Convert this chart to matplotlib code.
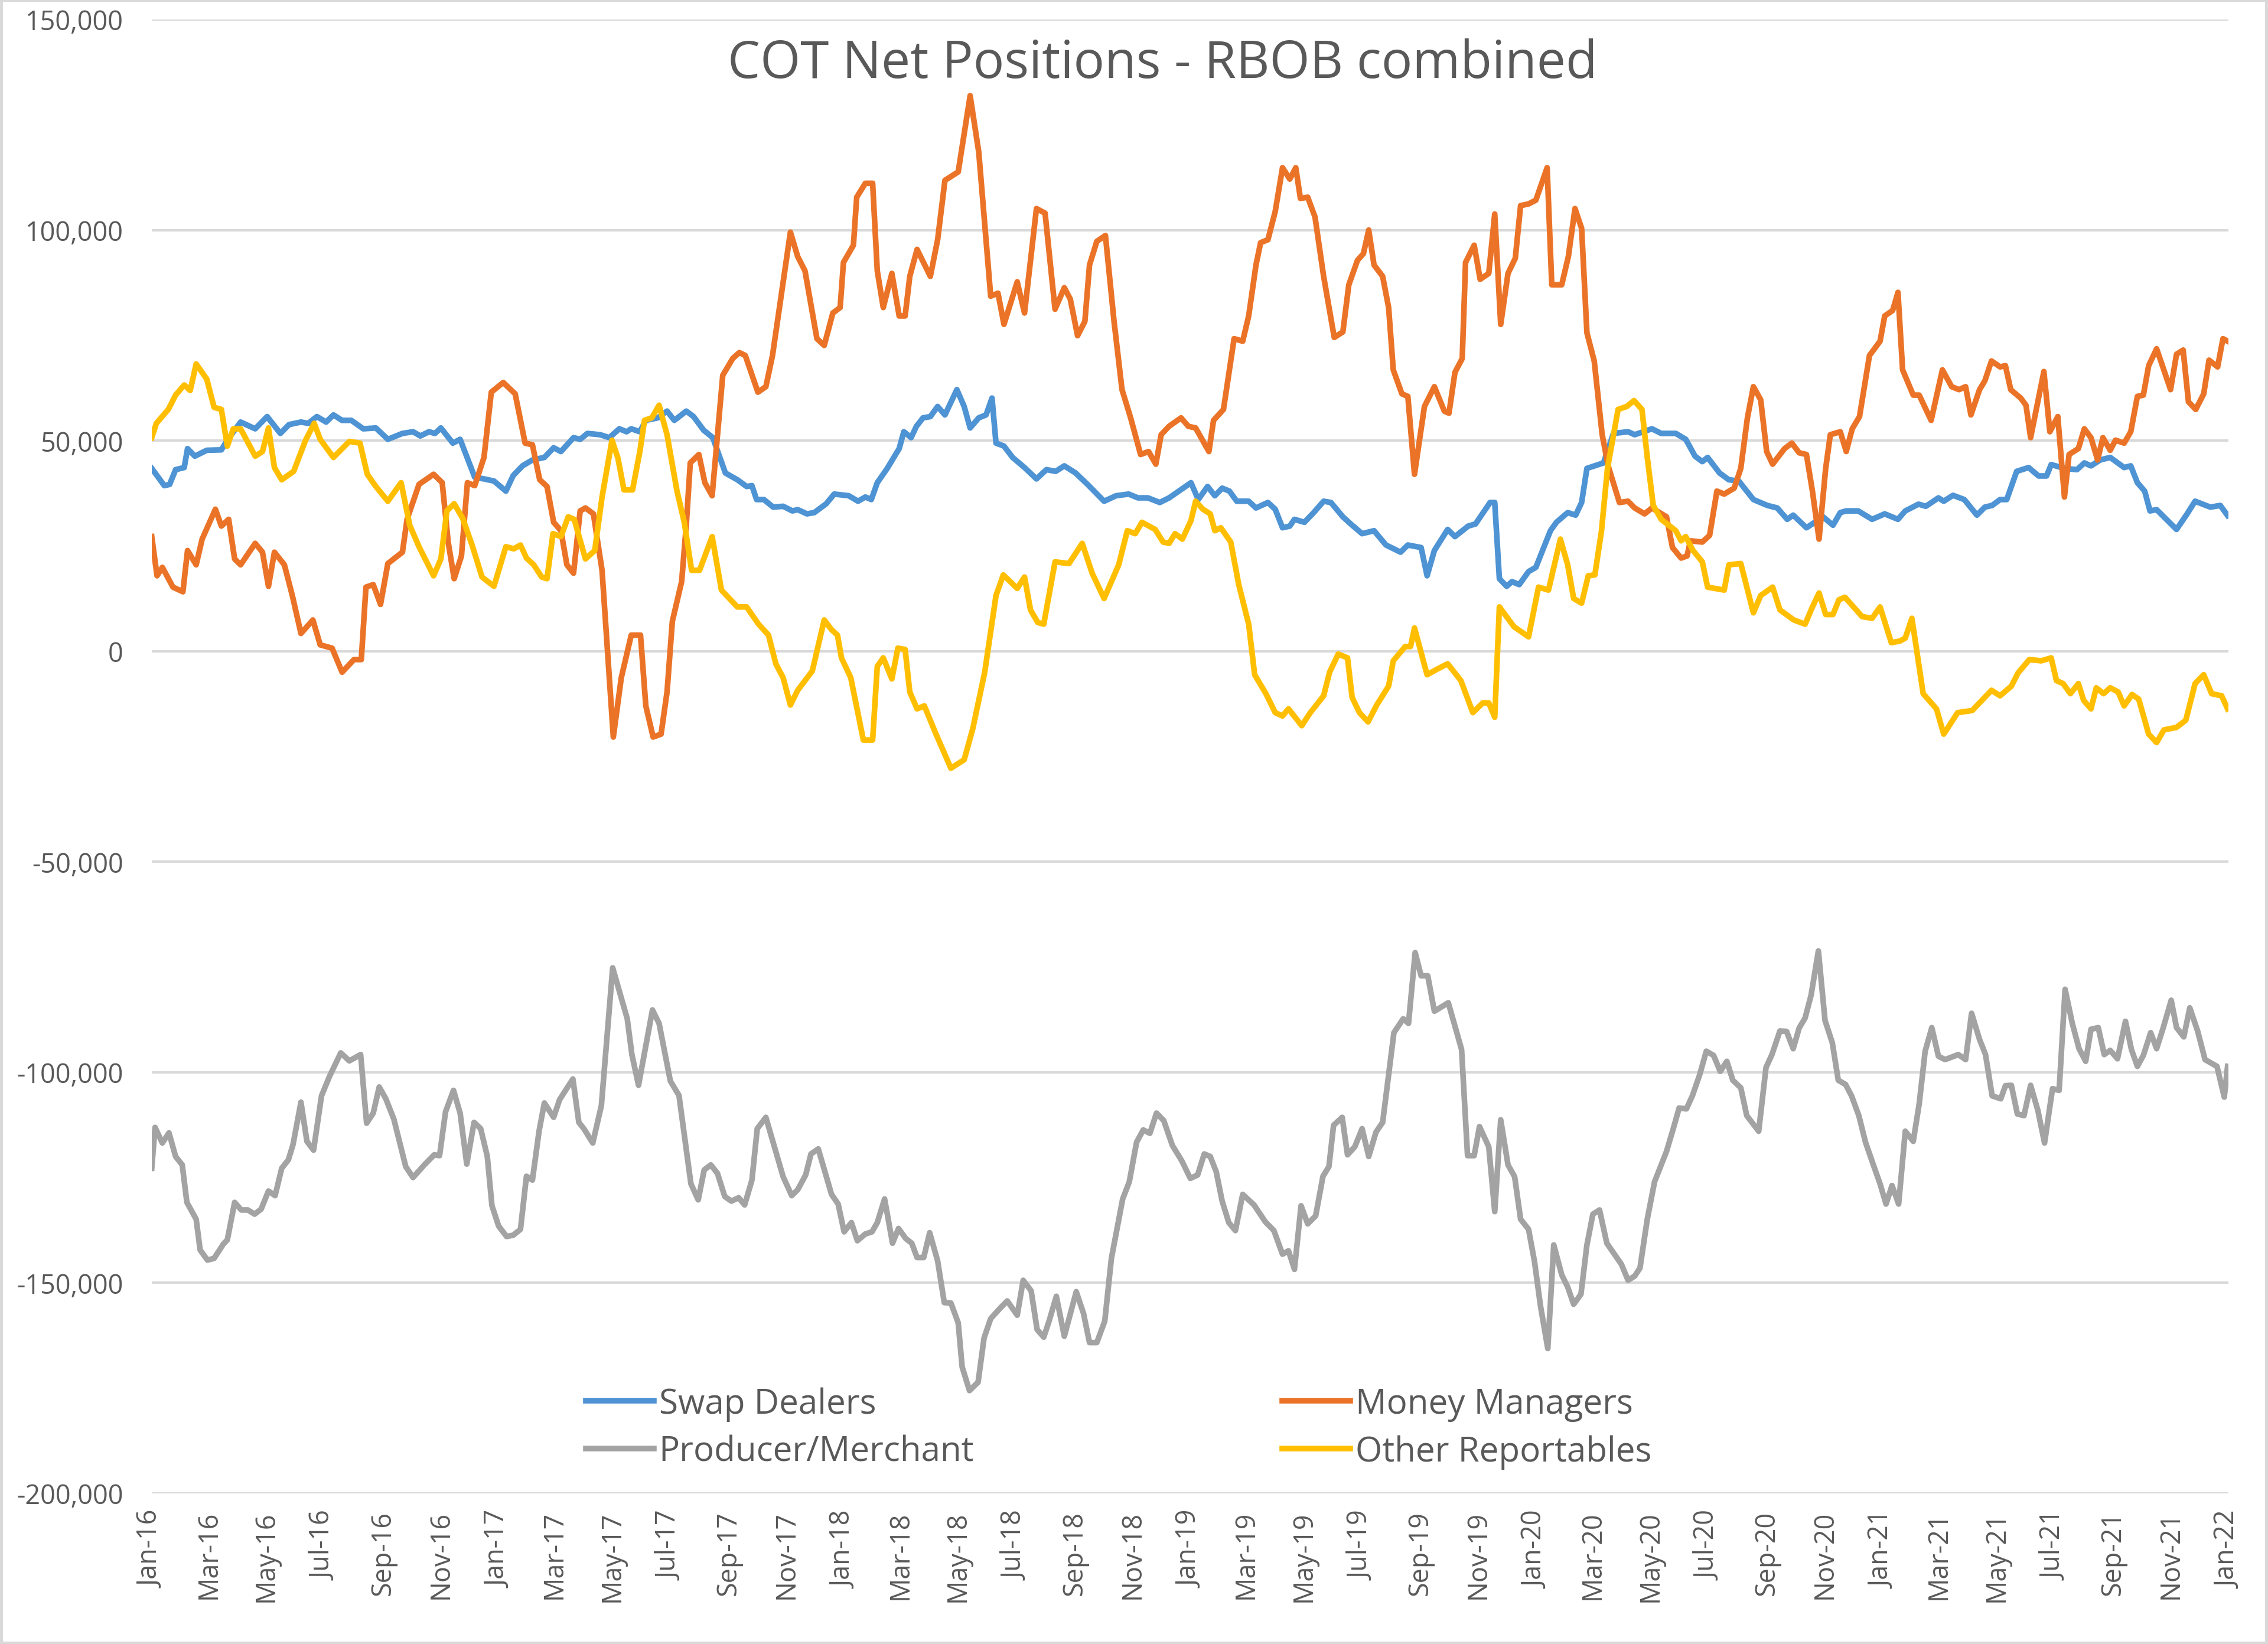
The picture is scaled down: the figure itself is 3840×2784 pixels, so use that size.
import matplotlib
matplotlib.use("Agg")
import matplotlib.pyplot as plt
import matplotlib.patches as patches
import numpy as np
import pandas as pd

# weekly COT net positions as (weeks since 5 Jan 2016, thousands of contracts)
swap_pts = [
    (0, 43.4), (1.9, 39.3), (2.7, 39.6), (3.6, 43.1), (4.9, 43.6), (5.4, 48.1), (6.5, 46.3), (8.3, 47.7),
    (10.5, 47.8), (11.4, 50.1), (13.4, 54.4), (15.6, 52.8), (17.4, 55.7), (19.4, 51.7), (20.7, 53.8),
    (22.5, 54.4), (23.6, 54.1), (24.9, 55.7), (26.3, 54.4), (27.4, 56.1), (28.7, 54.8), (30.1, 54.8),
    (31.9, 52.8), (33.8, 53.0), (35.6, 50.3), (37.8, 51.7), (39.4, 52.1), (40.5, 51.1), (41.8, 52.1),
    (42.7, 51.7), (43.6, 53.0), (45.4, 49.4), (46.5, 50.3), (48.7, 41.3), (50.1, 40.9), (51.6, 40.4),
    (53.4, 38.0), (54.5, 41.7), (55.9, 44.0), (57.4, 45.4), (59.2, 46.0), (60.6, 48.3), (61.7, 47.4),
    (63.6, 50.7), (64.6, 50.3), (65.7, 51.7), (67.6, 51.4), (69.0, 50.7), (70.5, 52.8), (71.6, 52.1),
    (72.3, 52.8), (73.6, 52.1), (74.5, 54.8), (76.3, 55.4), (77.7, 57.0), (78.8, 54.8), (80.6, 57.0),
    (81.7, 55.7), (83.2, 52.5), (84.6, 50.7), (86.5, 42.3), (88.3, 40.7), (89.7, 39.1), (90.5, 39.3),
    (91.2, 36.0), (92.3, 36.0), (93.7, 34.2), (95.2, 34.4), (96.6, 33.3), (97.4, 33.6), (98.8, 32.6),
    (99.9, 32.9), (101.7, 35.0), (102.9, 37.3), (105.1, 36.9), (106.5, 35.6), (107.6, 36.6), (108.5, 36.0),
    (109.4, 40.0), (110.9, 43.4), (112.7, 48.1), (113.4, 52.1), (114.5, 50.7), (115.3, 53.4), (116.3, 55.4),
    (117.4, 55.7), (118.5, 58.1), (119.6, 56.1), (121.4, 62.1), (122.5, 58.1), (123.4, 53.0), (124.7, 55.4),
    (125.8, 56.1), (126.7, 60.1), (127.3, 49.4), (128.5, 48.7), (129.8, 46.0), (131.6, 43.6), (133.4, 40.9),
    (134.9, 43.1), (136.3, 42.7), (137.6, 44.0), (139.3, 42.3), (141.1, 39.6), (143.6, 35.6), (145.4, 36.9),
    (147.3, 37.3), (148.7, 36.4), (150.2, 36.4), (152.0, 35.3), (153.4, 36.4), (156.7, 40.0), (157.8, 36.0),
    (159.2, 39.1), (160.3, 36.9), (161.4, 38.7), (162.5, 38.0), (163.6, 35.6), (165.4, 35.6), (166.5, 34.0),
    (168.3, 35.3), (169.4, 33.7), (170.5, 29.3), (171.6, 29.7), (172.3, 31.3), (173.8, 30.6), (175.2, 32.9),
    (176.7, 35.6), (177.8, 35.3), (179.6, 31.9), (181.0, 29.9), (182.5, 27.9), (184.3, 28.6), (186.1, 25.2),
    (188.3, 23.5), (189.4, 25.2), (191.4, 24.6), (192.3, 17.9), (193.4, 23.9), (195.4, 28.9), (196.5, 27.2),
    (198.5, 29.7), (199.6, 30.2), (201.8, 35.3), (202.5, 35.3), (203.2, 17.2), (204.3, 15.4), (205.1, 16.5),
    (206.2, 15.8), (207.6, 18.9), (208.7, 19.9), (210.9, 28.6), (211.8, 30.6), (213.5, 32.9), (214.7, 32.3),
    (215.6, 35.3), (216.4, 43.4), (218.9, 44.7), (220.4, 51.7), (222.6, 52.1), (223.6, 51.4), (226.2, 52.8),
    (227.6, 51.7), (229.8, 51.7), (231.3, 50.3), (232.7, 46.3), (233.8, 45.0), (234.6, 46.0), (236.4, 42.3),
    (237.8, 40.7), (239.3, 40.4), (241.5, 36.0), (243.6, 34.6), (245.1, 34.0), (246.6, 31.3), (247.5, 32.3),
    (249.5, 29.3), (252.0, 31.9), (253.5, 29.9), (254.6, 32.9), (255.5, 33.3), (257.3, 33.3), (259.4, 31.3),
    (261.3, 32.6), (263.3, 31.3), (264.4, 33.3), (266.4, 34.9), (267.5, 34.4), (269.4, 36.4), (270.2, 35.6),
    (271.6, 37.0), (273.3, 36.0), (275.2, 32.3), (276.4, 34.2), (277.5, 34.6), (278.7, 36.0), (279.7, 36.0),
    (281.2, 42.7), (283.0, 43.6), (284.5, 41.6), (285.7, 41.6), (286.4, 44.3), (288.4, 43.4), (290.3, 43.1),
    (291.4, 44.7), (292.4, 44.0), (293.8, 45.4), (295.3, 46.0), (297.4, 43.6), (298.4, 44.0), (299.4, 40.0),
    (300.5, 38.0), (301.3, 33.3), (302.3, 33.6), (305.3, 28.9), (306.9, 32.6), (308.1, 35.6), (310.4, 34.2),
    (311.9, 34.6), (313.0, 32.2),
]

money_pts = [
    (0, 27.2), (0.8, 17.9), (1.6, 19.9), (3.2, 15.2), (4.7, 14.1), (5.4, 23.9), (6.7, 20.5), (7.6, 26.6),
    (9.6, 33.7), (10.5, 29.7), (11.6, 31.3), (12.5, 21.9), (13.4, 20.5), (15.6, 25.6), (16.7, 23.5),
    (17.6, 15.4), (18.5, 23.5), (20.0, 20.5), (21.2, 13.2), (22.5, 4.2), (24.3, 7.4), (25.4, 1.5),
    (27.2, 0.7), (28.7, -5.0), (30.5, -2.0), (31.6, -2.0), (32.3, 15.2), (33.4, 15.8), (34.5, 11.1),
    (35.6, 20.8), (37.8, 23.5), (38.5, 31.3), (40.3, 39.6), (42.5, 42.0), (43.8, 40.0), (44.7, 25.9),
    (45.6, 17.2), (46.7, 22.6), (47.6, 40.0), (48.7, 39.3), (50.1, 46.0), (51.2, 61.5), (53.0, 63.8),
    (54.8, 61.1), (56.3, 49.4), (57.4, 49.0), (58.5, 40.7), (59.6, 39.1), (60.6, 30.6), (61.7, 28.6),
    (62.6, 20.5), (63.6, 18.5), (64.6, 33.3), (65.4, 34.0), (66.6, 32.6), (67.9, 19.2), (69.6, -20.4),
    (70.8, -6.3), (72.3, 3.8), (73.7, 3.8), (74.5, -13.0), (75.6, -20.4), (76.8, -19.7), (77.7, -9.7),
    (78.5, 7.1), (79.9, 16.5), (80.6, 29.9), (81.2, 44.7), (82.5, 46.7), (83.4, 40.0), (84.5, 36.9),
    (86.1, 65.5), (87.6, 69.5), (88.6, 70.9), (89.5, 70.2), (91.4, 61.5), (92.6, 62.8), (93.6, 70.2),
    (96.3, 99.5), (97.4, 93.7), (98.5, 90.3), (100.3, 74.2), (101.4, 72.6), (102.7, 80.3), (103.8, 81.6),
    (104.3, 92.3), (105.8, 96.4), (106.3, 107.8), (107.6, 111.1), (108.7, 111.1), (109.4, 90.3),
    (110.3, 81.6), (111.6, 89.7), (112.7, 79.6), (113.6, 79.6), (114.3, 89.0), (115.4, 95.4), (117.4, 89.0),
    (118.5, 97.7), (119.6, 111.8), (121.6, 113.8), (123.4, 131.9), (124.7, 118.5), (126.5, 84.3),
    (127.6, 85.0), (128.5, 77.6), (130.5, 87.7), (131.6, 80.3), (133.4, 105.1), (134.7, 104.0),
    (136.2, 81.2), (137.6, 86.3), (138.5, 83.6), (139.6, 74.9), (140.7, 78.3), (141.4, 91.7), (142.5, 97.3),
    (143.8, 98.7), (145.1, 78.3), (146.3, 62.1), (147.6, 55.4), (149.1, 46.7), (150.3, 47.4), (151.4, 44.4),
    (152.2, 51.4), (153.4, 53.4), (155.2, 55.4), (156.3, 53.4), (157.4, 53.0), (159.4, 47.4), (160.1, 54.8),
    (161.6, 57.4), (163.2, 74.2), (164.5, 73.6), (165.4, 79.6), (166.5, 91.7), (167.2, 97.0), (168.3, 97.7),
    (169.4, 104.4), (170.5, 114.8), (171.6, 112.1), (172.5, 114.8), (173.2, 107.5), (174.3, 107.8),
    (175.4, 103.1), (176.7, 89.0), (178.3, 74.5), (179.6, 75.8), (180.5, 87.0), (181.8, 92.8), (182.7, 94.4),
    (183.5, 100.0), (184.3, 91.7), (185.6, 89.0), (186.5, 81.6), (187.2, 66.8), (188.5, 61.1), (189.4, 60.5),
    (190.4, 42.0), (191.9, 58.1), (193.4, 62.8), (194.9, 57.0), (195.6, 56.5), (196.5, 66.2), (197.6, 69.5),
    (198.1, 92.3), (199.4, 96.4), (200.3, 88.3), (201.6, 89.7), (202.5, 103.8), (203.4, 77.6), (204.5, 89.7),
    (205.6, 93.3), (206.4, 105.8), (207.6, 106.2), (208.7, 107.1), (210.4, 114.8), (211.1, 87.0),
    (212.6, 87.0), (213.6, 93.7), (214.6, 105.1), (215.6, 100.4), (216.4, 75.6), (217.5, 68.9), (218.7, 51.4),
    (219.6, 44.0), (221.3, 35.3), (222.6, 35.6), (223.6, 34.0), (225.1, 32.6), (226.2, 34.0), (228.4, 31.9),
    (229.3, 24.6), (230.6, 22.1), (231.5, 22.6), (232.0, 26.2), (233.8, 25.9), (234.9, 27.5), (236.0, 38.0),
    (237.1, 37.3), (238.6, 38.7), (239.6, 43.4), (240.6, 55.4), (241.5, 62.8), (242.6, 59.7), (243.5, 47.4),
    (244.4, 44.4), (246.2, 48.1), (247.3, 49.4), (248.4, 47.1), (249.5, 46.7), (250.4, 38.0), (251.4, 26.6),
    (252.4, 43.4), (253.1, 51.4), (254.6, 52.1), (255.5, 47.4), (256.4, 52.8), (257.5, 55.7), (259.0, 70.2),
    (260.6, 73.6), (261.3, 79.6), (262.5, 80.9), (263.3, 85.2), (264.0, 66.8), (265.6, 60.8), (266.5, 60.8),
    (268.3, 54.8), (270.0, 66.8), (271.4, 62.8), (272.5, 62.1), (273.5, 62.8), (274.3, 56.1), (275.6, 62.1),
    (276.4, 64.2), (277.4, 68.9), (278.7, 67.5), (279.5, 67.8), (280.3, 62.1), (281.8, 60.1), (282.6, 58.4),
    (283.3, 50.7), (285.3, 66.4), (286.2, 52.1), (287.4, 55.7), (288.4, 36.6), (289.1, 46.7), (290.5, 48.1),
    (291.4, 52.8), (292.4, 50.7), (293.4, 45.4), (294.2, 50.7), (295.3, 47.7), (296.1, 50.1), (297.4, 49.4),
    (298.4, 52.1), (299.4, 60.5), (300.3, 60.8), (301.1, 67.8), (302.3, 71.8), (304.4, 62.1), (305.3, 70.5),
    (306.3, 71.5), (307.1, 59.2), (308.2, 57.4), (309.4, 61.1), (310.2, 69.1), (311.5, 67.5), (312.3, 74.2),
    (313.0, 73.6),
]

producer_pts = [
    (0, -122.8), (0.5, -113.1), (1.6, -116.8), (2.6, -114.4), (3.6, -120.0), (4.6, -122.0), (5.3, -130.9),
    (6.7, -134.9), (7.3, -142.2), (8.4, -144.6), (9.4, -144.2), (10.8, -140.8), (11.4, -139.8),
    (12.5, -130.9), (13.5, -132.7), (14.5, -132.7), (15.5, -133.7), (16.5, -132.5), (17.6, -128.2),
    (18.6, -129.3), (19.6, -122.8), (20.6, -120.8), (21.3, -117.2), (22.5, -107.1), (23.4, -116.4),
    (24.4, -118.5), (25.6, -105.6), (26.8, -101.0), (28.5, -95.4), (29.8, -97.3), (31.5, -95.8),
    (32.4, -112.1), (33.4, -109.7), (34.3, -103.5), (35.3, -106.3), (36.5, -111.1), (38.3, -122.4),
    (39.4, -125.0), (41.1, -122.0), (42.6, -119.6), (43.4, -119.8), (44.3, -109.4), (45.5, -104.3),
    (46.5, -109.7), (47.5, -121.8), (48.6, -111.9), (49.6, -113.4), (50.6, -120.0), (51.3, -131.7),
    (52.3, -136.5), (53.5, -139.0), (54.5, -138.7), (55.6, -137.3), (56.5, -124.7), (57.4, -125.6),
    (58.4, -114.0), (59.2, -107.3), (60.6, -110.7), (61.5, -106.5), (63.5, -101.6), (64.4, -111.9),
    (65.2, -113.5), (66.5, -116.8), (67.8, -107.9), (69.5, -75.2), (71.7, -87.3), (72.4, -95.8),
    (73.4, -103.1), (75.5, -85.2), (76.5, -88.4), (78.2, -102.1), (79.5, -105.5), (81.3, -126.5),
    (82.4, -130.3), (83.3, -123.2), (84.3, -122.0), (85.3, -124.0), (86.4, -129.5), (87.4, -130.6),
    (88.5, -129.8), (89.4, -131.5), (90.5, -125.6), (91.3, -113.4), (92.6, -110.7), (95.2, -124.8),
    (96.5, -129.3), (97.4, -127.9), (98.6, -124.4), (99.4, -119.4), (100.5, -118.2), (102.5, -129.0),
    (103.5, -131.3), (104.4, -137.9), (105.5, -135.7), (106.4, -140.0), (107.6, -138.4), (108.6, -137.9),
    (109.4, -135.7), (110.5, -130.1), (111.7, -140.6), (112.6, -137.1), (113.7, -139.5), (114.6, -140.6),
    (115.4, -144.0), (116.4, -144.0), (117.3, -138.1), (118.5, -144.8), (119.5, -154.7), (120.5, -154.8),
    (121.6, -159.5), (122.2, -170.0), (123.3, -175.6), (124.6, -173.6), (125.5, -163.1), (126.5, -158.5),
    (128.0, -155.9), (129.0, -154.3), (130.5, -157.7), (131.4, -149.4), (132.6, -151.9), (133.5, -161.1),
    (134.5, -162.9), (135.3, -159.1), (136.4, -153.2), (137.6, -162.7), (139.4, -152.1), (140.5, -157.3),
    (141.4, -164.2), (142.5, -164.2), (143.7, -159.1), (144.7, -144.2), (146.4, -130.1), (147.4, -126.0),
    (148.5, -116.6), (149.5, -113.7), (150.5, -114.5), (151.5, -109.7), (152.6, -111.5), (153.9, -117.4),
    (155.3, -121.0), (156.6, -125.2), (157.7, -124.4), (158.7, -119.4), (159.6, -120.0), (160.5, -123.6),
    (161.4, -130.6), (162.4, -135.7), (163.4, -137.6), (164.5, -129.0), (166.2, -131.5), (167.9, -135.5),
    (169.2, -137.6), (170.5, -143.2), (171.4, -142.4), (172.3, -146.8), (173.3, -131.7), (174.3, -136.0),
    (175.5, -134.1), (176.6, -124.7), (177.5, -122.4), (178.2, -112.6), (179.5, -110.7), (180.3, -119.6),
    (181.4, -117.7), (182.5, -113.4), (183.5, -120.0), (184.6, -114.2), (185.6, -111.9), (187.3, -90.6),
    (188.7, -87.3), (189.5, -88.4), (190.5, -71.6), (191.4, -77.1), (192.4, -77.1), (193.4, -85.5),
    (195.5, -83.5), (197.5, -94.6), (198.4, -119.8), (199.4, -119.8), (200.2, -112.9), (201.6, -117.7),
    (202.5, -133.1), (203.4, -111.3), (204.5, -122.0), (205.5, -124.8), (206.4, -134.9), (207.6, -137.3),
    (208.5, -145.0), (209.4, -155.5), (210.5, -165.6), (211.4, -141.0), (212.6, -148.1), (213.5, -151.0),
    (214.4, -155.1), (215.5, -152.7), (216.4, -141.0), (217.3, -133.7), (218.3, -132.7), (219.4, -140.6),
    (221.6, -145.6), (222.6, -149.4), (223.6, -148.4), (224.4, -146.5), (225.5, -134.9), (226.6, -126.0),
    (228.4, -118.8), (229.4, -113.5), (230.3, -108.5), (231.4, -108.7), (232.3, -105.6), (233.4, -100.6),
    (234.4, -95.0), (235.5, -96.0), (236.5, -99.8), (237.5, -97.4), (238.4, -101.9), (239.6, -103.7),
    (240.5, -110.3), (242.3, -114.0), (243.4, -98.9), (244.3, -95.8), (245.5, -90.2), (246.5, -90.3),
    (247.5, -94.4), (248.4, -89.5), (249.3, -87.1), (250.2, -81.7), (251.3, -71.2), (252.3, -87.7),
    (253.4, -93.0), (254.3, -101.9), (255.4, -102.9), (256.3, -105.6), (257.4, -110.3), (258.4, -116.6),
    (259.5, -121.6), (260.6, -126.5), (261.5, -131.3), (262.4, -126.9), (263.4, -131.3), (264.4, -114.0),
    (265.6, -116.4), (266.5, -107.5), (267.4, -95.0), (268.4, -89.4), (269.4, -96.2), (270.4, -97.0),
    (272.4, -95.8), (273.5, -97.0), (274.4, -86.0), (275.6, -92.2), (276.5, -95.8), (277.5, -105.6),
    (278.8, -106.3), (279.5, -103.2), (280.4, -103.1), (281.3, -109.9), (282.3, -110.3), (283.3, -103.1),
    (284.4, -109.1), (285.4, -116.8), (286.6, -103.9), (287.6, -104.3), (288.5, -80.3), (289.6, -88.5),
    (290.6, -94.4), (291.6, -97.4), (292.4, -89.8), (293.5, -89.4), (294.4, -95.8), (295.3, -94.8),
    (296.4, -96.8), (297.6, -87.9), (298.5, -94.6), (299.4, -98.6), (300.3, -96.0), (301.4, -90.6),
    (302.3, -94.4), (303.3, -89.4), (304.5, -82.9), (305.3, -89.4), (306.4, -91.6), (307.3, -84.7),
    (308.5, -90.3), (309.6, -97.0), (311.4, -98.6), (312.5, -105.9), (313.0, -98.6),
]

other_pts = [
    (0, 50.7), (0.7, 54.1), (2.5, 57.4), (3.6, 60.8), (4.9, 63.2), (5.8, 61.9), (6.7, 68.2), (8.3, 64.6),
    (9.4, 57.9), (10.5, 57.4), (11.4, 48.7), (12.3, 52.8), (13.4, 52.8), (15.6, 46.3), (16.7, 47.4),
    (17.6, 53.0), (18.5, 43.6), (19.6, 40.7), (21.4, 42.7), (23.2, 50.1), (24.5, 54.1), (25.4, 50.3),
    (27.4, 46.0), (29.8, 49.8), (31.4, 49.4), (32.5, 42.0), (33.8, 39.1), (35.6, 35.6), (37.6, 40.0),
    (38.9, 29.9), (40.3, 24.8), (42.5, 17.9), (43.6, 21.9), (44.5, 33.3), (45.6, 35.0), (46.9, 31.5),
    (48.3, 25.2), (49.8, 17.6), (51.6, 15.4), (53.4, 24.8), (54.6, 24.3), (55.6, 25.2), (56.5, 22.1),
    (57.6, 20.5), (58.8, 17.6), (59.6, 17.2), (60.5, 27.9), (61.7, 27.2), (62.8, 31.9), (63.7, 31.3),
    (65.4, 21.9), (66.8, 23.9), (67.9, 36.6), (69.4, 50.1), (70.3, 45.8), (71.2, 38.3), (72.5, 38.3),
    (73.6, 47.4), (74.3, 54.8), (75.4, 55.4), (76.5, 58.4), (77.7, 51.4), (79.2, 38.0), (80.3, 30.6),
    (81.4, 19.2), (82.6, 19.2), (84.5, 27.2), (85.9, 14.5), (88.3, 10.5), (89.7, 10.5), (91.5, 6.4),
    (93.0, 3.8), (94.1, -3.0), (95.2, -6.3), (96.3, -12.8), (97.4, -9.3), (99.6, -4.7), (101.4, 7.4),
    (102.5, 5.1), (103.4, 3.8), (104.0, -1.6), (105.4, -6.3), (107.3, -21.1), (108.7, -21.1), (109.4, -3.6),
    (110.3, -1.6), (111.6, -6.6), (112.5, 0.7), (113.6, 0.4), (114.3, -9.7), (115.4, -13.7), (116.5, -13.0),
    (118.2, -19.5), (120.5, -27.8), (122.5, -25.8), (123.8, -18.4), (125.6, -5.0), (127.3, 13.2),
    (128.4, 18.1), (130.5, 14.9), (131.6, 17.6), (132.5, 9.8), (133.6, 6.8), (134.5, 6.4), (136.2, 21.2),
    (138.3, 20.8), (140.3, 25.6), (141.8, 18.5), (143.6, 12.5), (145.8, 20.5), (147.1, 28.6), (148.3, 27.9),
    (149.3, 30.6), (151.3, 28.9), (152.5, 25.9), (153.4, 25.6), (154.3, 27.9), (155.4, 26.6), (156.7, 31.0),
    (157.4, 35.6), (158.5, 33.7), (159.6, 32.6), (160.3, 28.6), (161.2, 29.3), (162.7, 25.9), (163.9, 15.8),
    (165.4, 6.4), (166.3, -5.6), (168.0, -10.1), (169.4, -14.6), (170.5, -15.4), (171.4, -13.7),
    (173.4, -17.7), (174.7, -14.6), (176.7, -10.6), (177.6, -5.0), (178.9, -0.7), (180.3, -1.6),
    (181.0, -11.0), (182.1, -14.6), (183.4, -16.8), (184.7, -12.8), (186.5, -8.3), (187.2, -2.3),
    (189.0, 1.1), (189.8, 1.1), (190.4, 5.5), (192.3, -5.6), (193.8, -4.3), (195.4, -3.0), (197.4, -7.0),
    (199.2, -14.6), (200.7, -12.3), (201.6, -12.3), (202.5, -15.7), (203.2, 10.5), (205.4, 5.8),
    (207.6, 3.4), (209.1, 15.2), (210.6, 14.5), (212.4, 26.6), (213.5, 20.5), (214.4, 12.5), (215.6, 11.4),
    (216.6, 17.9), (217.6, 18.1), (218.6, 28.6), (219.5, 43.4), (221.1, 57.4), (222.4, 58.1), (223.5, 59.5),
    (224.7, 57.4), (225.5, 46.0), (226.4, 34.6), (227.6, 31.3), (229.8, 28.6), (230.6, 26.2), (231.3, 27.2),
    (232.4, 23.9), (233.8, 21.2), (234.6, 15.2), (237.1, 14.5), (237.8, 20.5), (239.6, 20.8), (241.5, 9.1),
    (242.6, 13.2), (244.4, 15.2), (245.5, 9.8), (247.6, 7.4), (249.3, 6.4), (250.4, 10.5), (251.4, 13.8),
    (252.4, 8.7), (253.5, 8.7), (254.4, 12.2), (255.3, 12.8), (257.9, 8.2), (259.4, 7.8), (260.6, 10.5),
    (262.3, 2.0), (263.6, 2.4), (264.4, 3.1), (265.4, 7.8), (267.1, -10.1), (269.1, -13.7), (270.2, -19.7),
    (272.3, -14.6), (274.5, -14.1), (277.4, -9.3), (278.7, -10.6), (280.4, -8.3), (281.4, -5.2),
    (283.1, -2.0), (284.9, -2.3), (286.4, -1.6), (287.2, -7.0), (288.2, -7.7), (289.3, -10.1), (290.5, -7.7),
    (291.3, -11.7), (292.4, -13.7), (293.2, -8.7), (294.3, -10.1), (295.3, -8.7), (296.5, -9.7),
    (297.4, -13.0), (298.6, -10.3), (299.6, -11.4), (301.1, -19.7), (302.3, -21.7), (303.4, -18.7),
    (305.3, -18.1), (306.7, -16.4), (308.1, -7.7), (309.4, -5.6), (310.6, -10.1), (312.1, -10.6),
    (313.0, -13.7),
]

series_names = ["Swap Dealers", "Money Managers", "Producer/Merchant", "Other Reportables"]
series_colors = ["#4E93D3", "#EB7328", "#A3A3A3", "#FFBF00"]

start = pd.Timestamp("2016-01-05")
end = pd.Timestamp("2022-01-05")


def to_xy(pts):
    wk = np.array([p[0] for p in pts])
    val = np.array([p[1] for p in pts]) * 1000
    dates = start + pd.to_timedelta(wk * 7, unit="D")
    return dates, val


plt.rcParams['font.family'] = ['Open Sans', 'DejaVu Sans']
text_grey = "#595959"
grid_grey = "#D9D9D9"

fig = plt.figure(figsize=(12.8, 9.2833), dpi=300)
ax = fig.add_axes([0.0669, 0.0916, 0.9157, 0.8962])

lines = []
for pts, name, col in zip([swap_pts, money_pts, producer_pts, other_pts], series_names, series_colors):
    x, y = to_xy(pts)
    ln, = ax.plot(x, y, color=col, lw=2.3, label=name, solid_joinstyle='round')
    lines.append(ln)

ax.set_ylim(-200000, 150000)
ax.set_yticks(np.arange(-200000, 150001, 50000))
ax.yaxis.set_major_formatter(matplotlib.ticker.FuncFormatter(lambda v, p: f"{int(v):,}"))
ax.set_xlim(start, end)
ticks = pd.date_range(start, periods=37, freq=pd.DateOffset(months=2))
ax.set_xticks(ticks)
ax.set_xticklabels([t.strftime("%b-%y") for t in ticks], rotation=90)
ax.xaxis.set_minor_locator(matplotlib.ticker.NullLocator())

ax.grid(axis='y', color=grid_grey, lw=1.0)
ax.set_axisbelow(True)
for s in ax.spines.values():
    s.set_visible(False)
ax.tick_params(axis='y', length=0, pad=11.5, labelsize=10.8, labelcolor=text_grey)
ax.tick_params(axis='x', length=0, pad=7, labelsize=10.8, labelcolor=text_grey)

fig.text(0.5125, 0.961, "COT Net Positions - RBOB combined", ha='center', va='center',
         fontsize=21, color=text_grey)

order = [0, 2, 1, 3]
leg = fig.legend([lines[i] for i in order], [series_names[i] for i in order],
                 ncol=2, loc='upper left', bbox_to_anchor=(0.2583, 0.1565),
                 frameon=False, fontsize=14, handlelength=1.97, handletextpad=0.15,
                 columnspacing=8.95, labelspacing=0.39, borderpad=0, borderaxespad=0)
for t in leg.get_texts():
    t.set_color(text_grey)

fig.patches.append(patches.Rectangle((0.0005, 0.0005), 0.999, 0.999, transform=fig.transFigure,
                                     fill=False, ec=grid_grey, lw=1.5))

fig.savefig("out.png", dpi=300)
